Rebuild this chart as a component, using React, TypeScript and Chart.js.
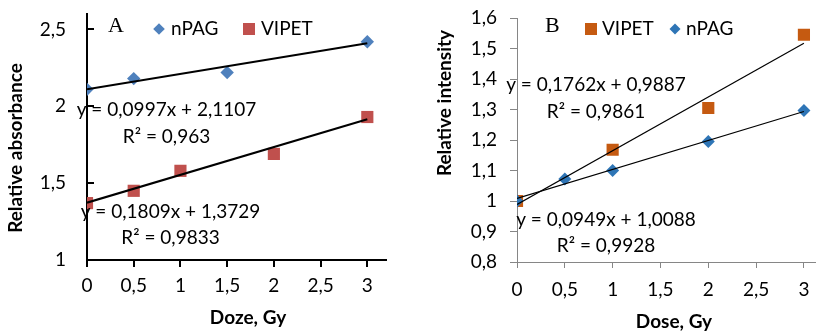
import React, { useEffect, useRef } from 'react';
import { Chart, registerables } from 'chart.js';

Chart.register(...registerables);

// ---------- Panel A data ----------
const aNpagDose = [0, 0.5, 1.5, 3];
const aNpagValue = [2.11, 2.18, 2.22, 2.42];
const aVipetDose = [0, 0.5, 1, 2, 3];
const aVipetValue = [1.37, 1.45, 1.58, 1.69, 1.93];
const aFitSlope = [0.0997, 0.1809]; // nPAG, VIPET
const aFitIntercept = [2.1107, 1.3729];
const aEquations = ['y = 0,0997x + 2,1107', 'y = 0,1809x + 1,3729'];
const aR2 = ['R² = 0,963', 'R² = 0,9833'];
const aYTicks = [1, 1.5, 2, 2.5];

// ---------- Panel B data ----------
const bVipetDose = [0, 1, 2, 3];
const bVipetValue = [1.0, 1.168, 1.305, 1.545];
const bNpagDose = [0, 0.5, 1, 2, 3];
const bNpagValue = [1.0, 1.072, 1.1, 1.195, 1.297];
const bFitSlope = [0.1762, 0.0949]; // VIPET, nPAG
const bFitIntercept = [0.9887, 1.0088];
const bEquations = ['y = 0,1762x + 0,9887', 'y = 0,0949x + 1,0088'];
const bR2 = ['R² = 0,9861', 'R² = 0,9928'];
const bYTicks = [0.8, 0.9, 1, 1.1, 1.2, 1.3, 1.4, 1.5, 1.6];

const xTicks = [0, 0.5, 1, 1.5, 2, 2.5, 3];

const FONT = 'Lato, "Open Sans", sans-serif';
const SERIF = '"Liberation Serif", "DejaVu Serif", serif';

const fmt = (v: number) => String(Math.round(v * 10) / 10).replace('.', ',');
const pts = (xs: number[], ys: number[]) => xs.map((x, i) => ({ x, y: ys[i] }));
const fitLine = (m: number, b: number, xs: number[]) => {
  const lo = Math.min(...xs);
  const hi = Math.max(...xs);
  return [
    { x: lo, y: m * lo + b },
    { x: hi, y: m * hi + b },
  ];
};

function drawMarker(ctx: CanvasRenderingContext2D, style: string, x: number, y: number, r: number, color: string) {
  ctx.save();
  ctx.fillStyle = color;
  ctx.beginPath();
  if (style === 'rectRot') {
    ctx.moveTo(x - r, y);
    ctx.lineTo(x, y - r);
    ctx.lineTo(x + r, y);
    ctx.lineTo(x, y + r);
    ctx.closePath();
  } else {
    const s = r * Math.SQRT1_2;
    ctx.rect(x - s, y - s, 2 * s, 2 * s);
  }
  ctx.fill();
  ctx.restore();
}

type Overlay = {
  letter: { text: string; x: number; y: number };
  legend: { ds: number; mx: number; tx: number; y: number; r: number }[];
  notes: { text: string; x: number; y: number }[];
  yTitle: { text: string; x: number; y: number };
  xTitle: { text: string; x: number; y: number };
  innerYTicks?: { len: number; width: number; color: string };
};

function makeOverlay(cfg: Overlay) {
  return {
    id: 'overlay',
    afterDraw(chart: any) {
      const ctx: CanvasRenderingContext2D = chart.ctx;
      ctx.save();
      // inner y-axis tick marks
      if (cfg.innerYTicks) {
        const ys = chart.scales.y;
        const left = chart.chartArea.left;
        ctx.strokeStyle = cfg.innerYTicks.color;
        ctx.lineWidth = cfg.innerYTicks.width;
        ys.ticks.forEach((t: any) => {
          const py = Math.round(ys.getPixelForValue(t.value));
          ctx.beginPath();
          ctx.moveTo(left - 1, py);
          ctx.lineTo(left + cfg.innerYTicks!.len, py);
          ctx.stroke();
        });
      }
      ctx.fillStyle = '#000';
      ctx.textBaseline = 'middle';
      // panel letter
      ctx.font = `22px ${SERIF}`;
      ctx.textAlign = 'left';
      ctx.fillText(cfg.letter.text, cfg.letter.x, cfg.letter.y);
      // legend
      ctx.font = `19px ${FONT}`;
      cfg.legend.forEach((l) => {
        const ds = chart.data.datasets[l.ds];
        drawMarker(ctx, ds.pointStyle, l.mx, l.y, l.r, ds.backgroundColor);
        ctx.fillStyle = '#000';
        ctx.textAlign = 'left';
        ctx.fillText(ds.label, l.tx, l.y);
      });
      // equations
      ctx.textAlign = 'center';
      cfg.notes.forEach((n) => ctx.fillText(n.text, n.x, n.y));
      // axis titles
      ctx.font = `bold 19px ${FONT}`;
      ctx.fillText(cfg.xTitle.text, cfg.xTitle.x, cfg.xTitle.y);
      ctx.save();
      ctx.translate(cfg.yTitle.x, cfg.yTitle.y);
      ctx.rotate(-Math.PI / 2);
      ctx.fillText(cfg.yTitle.text, 0, 0);
      ctx.restore();
      ctx.restore();
    },
  };
}

function scatterDs(label: string, data: any[], color: string, style: string, r: number, order: number) {
  return {
    type: 'scatter',
    label,
    data,
    backgroundColor: color,
    borderColor: color,
    pointStyle: style,
    pointRadius: r,
    pointHoverRadius: r,
    pointBorderWidth: 0,
    showLine: false,
    order,
  };
}

function lineDs(data: any[], width: number) {
  return {
    type: 'scatter',
    label: 'fit',
    data,
    showLine: true,
    borderColor: '#000',
    backgroundColor: '#000',
    borderWidth: width,
    pointRadius: 0,
    pointHoverRadius: 0,
    order: 0,
  };
}

function axisX(max: number, color: string, lw: number, tl: number, pad: number, h: number) {
  return {
    type: 'linear',
    min: 0,
    max,
    afterBuildTicks: (s: any) => {
      s.ticks = xTicks.map((v) => ({ value: v }));
    },
    afterFit: (s: any) => {
      s.height = h;
      s.paddingLeft = 0;
      s.paddingRight = 0;
    },
    grid: { drawOnChartArea: false, drawTicks: true, tickLength: tl, color, lineWidth: lw },
    border: { color, width: lw },
    ticks: {
      padding: pad,
      color: '#000',
      font: { family: FONT, size: 19 },
      autoSkip: false,
      maxRotation: 0,
      callback: (v: number) => fmt(v),
    },
  };
}

function axisY(min: number, max: number, tickVals: number[], color: string, lw: number, tl: number, pad: number, w: number) {
  return {
    type: 'linear',
    min,
    max,
    afterBuildTicks: (s: any) => {
      s.ticks = tickVals.map((v) => ({ value: v }));
    },
    afterFit: (s: any) => {
      s.width = w;
      s.paddingTop = 0;
      s.paddingBottom = 0;
    },
    grid: { drawOnChartArea: false, drawTicks: tl > 0, tickLength: tl, color, lineWidth: lw },
    border: { color, width: lw },
    ticks: {
      padding: pad,
      color: '#000',
      font: { family: FONT, size: 19 },
      autoSkip: false,
      callback: (v: number) => fmt(v),
    },
  };
}

function useChart(ref: React.RefObject<HTMLCanvasElement>, build: () => any) {
  useEffect(() => {
    if (!ref.current) return;
    const chart = new Chart(ref.current, build());
    return () => chart.destroy();
  }, []);
}

const baseOptions = {
  responsive: false,
  animation: false,
  events: [],
  plugins: { legend: { display: false }, tooltip: { enabled: false } },
};

export default function App() {
  const aRef = useRef<HTMLCanvasElement>(null);
  const bRef = useRef<HTMLCanvasElement>(null);

  useChart(aRef, () => ({
    type: 'scatter',
    data: {
      datasets: [
        scatterDs('nPAG', pts(aNpagDose, aNpagValue), '#4F81BD', 'rectRot', 6.7, 1),
        scatterDs('VIPET', pts(aVipetDose, aVipetValue), '#C0504D', 'rect', 8.6, 1),
        lineDs(fitLine(aFitSlope[0], aFitIntercept[0], aNpagDose), 2),
        lineDs(fitLine(aFitSlope[1], aFitIntercept[1], aVipetDose), 2),
      ],
    },
    options: {
      ...baseOptions,
      layout: { padding: { left: 0, right: 26, top: 14, bottom: 0 } },
      scales: {
        x: axisX(3.2, '#000', 2, 7, 7, 72),
        y: axisY(1, 2.6, aYTicks, '#000', 2, 0, 21, 87),
      },
    },
    plugins: [
      makeOverlay({
        letter: { text: 'A', x: 108, y: 26 },
        legend: [
          { ds: 0, mx: 159, tx: 171, y: 29, r: 5.8 },
          { ds: 1, mx: 249, tx: 261, y: 29, r: 8.5 },
        ],
        notes: [
          { text: aEquations[0], x: 166.5, y: 110 },
          { text: aR2[0], x: 166.5, y: 137 },
          { text: aEquations[1], x: 170.5, y: 212 },
          { text: aR2[1], x: 170.5, y: 238 },
        ],
        yTitle: { text: 'Relative absorbance', x: 16, y: 148 },
        xTitle: { text: 'Doze, Gy', x: 248, y: 318 },
        innerYTicks: { len: 7, width: 2, color: '#000' },
      }),
    ],
  }));

  useChart(bRef, () => ({
    type: 'scatter',
    data: {
      datasets: [
        scatterDs('VIPET', pts(bVipetDose, bVipetValue), '#C55A11', 'rect', 8.6, 2),
        scatterDs('nPAG', pts(bNpagDose, bNpagValue), '#2E75B6', 'rectRot', 6.5, 1),
        lineDs(fitLine(bFitSlope[0], bFitIntercept[0], bVipetDose), 1.2),
        lineDs(fitLine(bFitSlope[1], bFitIntercept[1], bNpagDose), 1.2),
      ],
    },
    options: {
      ...baseOptions,
      layout: { padding: { left: 0, right: 1, top: 18, bottom: 0 } },
      scales: {
        x: axisX(3.12, '#868686', 1, 6, 10, 70),
        y: axisY(0.8, 1.6, bYTicks, '#868686', 1, 7, 13, 105),
      },
    },
    plugins: [
      makeOverlay({
        letter: { text: 'B', x: 133, y: 26 },
        legend: [
          { ds: 0, mx: 179, tx: 190, y: 29, r: 8.5 },
          { ds: 1, mx: 263, tx: 274, y: 29, r: 5.5 },
        ],
        notes: [
          { text: bEquations[0], x: 184, y: 85 },
          { text: bR2[0], x: 184, y: 112 },
          { text: bEquations[1], x: 194, y: 220 },
          { text: bR2[1], x: 194, y: 246 },
        ],
        yTitle: { text: 'Relative intensity', x: 33, y: 103 },
        xTitle: { text: 'Dose, Gy', x: 262, y: 322 },
      }),
    ],
  }));

  return (
    <div style={{ position: 'absolute', left: 0, top: 0, width: 824, height: 332, background: '#fff' }}>
      <canvas ref={aRef} width={412} height={332} style={{ position: 'absolute', left: 0, top: 0 }} />
      <canvas ref={bRef} width={412} height={332} style={{ position: 'absolute', left: 412, top: 0 }} />
    </div>
  );
}
